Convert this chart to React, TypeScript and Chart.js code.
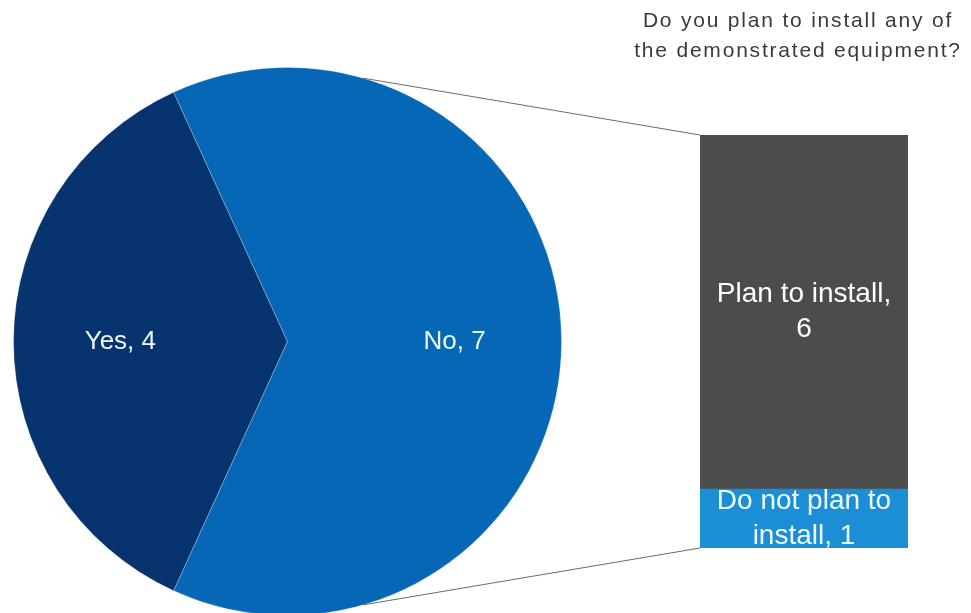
import { useEffect, useRef } from 'react';
import { Chart, registerables } from 'chart.js';

Chart.register(...registerables);

// ---- data ----
const pieLabels = ['Yes', 'No'];
const pieValues = [4, 7];
const pieColors = ['#07336f', '#0567b5'];

// stacked bar (bottom segment first)
const barLabels = ['Do not plan to install', 'Plan to install'];
const barValues = [1, 6];
const barColors = ['#1b8ed6', '#4c4c4c'];

const titleLines = ['Do you plan to install any of', 'the demonstrated equipment?'];

const FONT = '"Liberation Sans", Arial, Helvetica, sans-serif';

function wrapText(ctx: CanvasRenderingContext2D, text: string, maxWidth: number): string[] {
  const words = text.split(' ');
  const lines: string[] = [];
  let cur = '';
  for (const w of words) {
    const test = cur ? cur + ' ' + w : w;
    if (ctx.measureText(test).width > maxWidth && cur) {
      lines.push(cur);
      cur = w;
    } else {
      cur = test;
    }
  }
  if (cur) lines.push(cur);
  return lines;
}

export default function App() {
  const pieRef = useRef<HTMLCanvasElement>(null);
  const barRef = useRef<HTMLCanvasElement>(null);

  useEffect(() => {
    const total = pieValues.reduce((a, b) => a + b, 0);
    const firstSpan = (pieValues[0] / total) * 360;

    const pieLabelPlugin = {
      id: 'pieLabels',
      afterDatasetsDraw(chart: any) {
        const ctx = chart.ctx as CanvasRenderingContext2D;
        const meta = chart.getDatasetMeta(0);
        ctx.save();
        ctx.font = `26px ${FONT}`;
        ctx.fillStyle = '#eef9ff';
        ctx.textAlign = 'center';
        ctx.textBaseline = 'middle';
        meta.data.forEach((arc: any, i: number) => {
          const mid = (arc.startAngle + arc.endAngle) / 2;
          const d = arc.outerRadius * 0.61;
          const x = arc.x + Math.cos(mid) * d;
          const y = arc.y + Math.sin(mid) * d;
          ctx.fillText(`${pieLabels[i]}, ${pieValues[i]}`, x, y);
        });
        ctx.restore();
      },
    };

    const pie = new Chart(pieRef.current!, {
      type: 'pie',
      data: {
        labels: pieLabels,
        datasets: [
          {
            data: pieValues,
            backgroundColor: pieColors,
            borderColor: 'rgba(255,255,255,0.25)',
            borderWidth: 1,
          },
        ],
      },
      options: {
        animation: false,
        responsive: false,
        maintainAspectRatio: false,
        rotation: 270 - firstSpan / 2,
        layout: { padding: 0 },
        plugins: { legend: { display: false }, tooltip: { enabled: false } },
      },
      plugins: [pieLabelPlugin],
    });

    const CONNECTOR_ANGLE = (16 * Math.PI) / 180;

    const connectorPlugin = {
      id: 'connectors',
      afterDraw(chart: any) {
        const ctx = chart.ctx as CanvasRenderingContext2D;
        const top = chart.getDatasetMeta(barValues.length - 1).data[0] as any;
        const bottom = chart.getDatasetMeta(0).data[0] as any;
        if (!top || !bottom) return;
        const left = top.x - top.width / 2;
        const barTop = Math.min(top.y, top.base);
        const barBottom = Math.max(bottom.y, bottom.base);
        const arc = pie.getDatasetMeta(0).data[0] as any;
        const pr = pieRef.current!.getBoundingClientRect();
        const br = barRef.current!.getBoundingClientRect();
        const cx = arc.x + (pr.left - br.left);
        const cy = arc.y + (pr.top - br.top);
        const r = arc.outerRadius;
        const sx = cx + r * Math.sin(CONNECTOR_ANGLE);
        const dy = r * Math.cos(CONNECTOR_ANGLE);
        ctx.save();
        ctx.strokeStyle = '#6a6a6a';
        ctx.lineWidth = 1;
        ctx.beginPath();
        ctx.moveTo(sx, cy - dy);
        ctx.lineTo(left, barTop);
        ctx.moveTo(sx, cy + dy);
        ctx.lineTo(left, barBottom);
        ctx.stroke();
        ctx.restore();
      },
    };

    const barLabelPlugin = {
      id: 'barLabels',
      afterDatasetsDraw(chart: any) {
        const ctx = chart.ctx as CanvasRenderingContext2D;
        ctx.save();
        ctx.font = `28px ${FONT}`;
        ctx.fillStyle = '#ffffff';
        ctx.textAlign = 'center';
        ctx.textBaseline = 'middle';
        const lineH = 35;
        barValues.forEach((v, i) => {
          const el = chart.getDatasetMeta(i).data[0] as any;
          if (!el) return;
          const lines = wrapText(ctx, `${barLabels[i]}, ${v}`, el.width - 20);
          const cy = (el.y + el.base) / 2;
          const startY = cy - ((lines.length - 1) * lineH) / 2;
          ctx.fillStyle = i === 0 ? '#eefaff' : '#ffffff';
          lines.forEach((ln, k) => ctx.fillText(ln, el.x, startY + k * lineH));
        });
        ctx.restore();
      },
    };

    const bar = new Chart(barRef.current!, {
      type: 'bar',
      data: {
        labels: [''],
        datasets: barValues.map((v, i) => ({
          label: barLabels[i],
          data: [v],
          backgroundColor: barColors[i],
          borderWidth: 0,
          barPercentage: 1,
          categoryPercentage: 1,
        })),
      },
      options: {
        animation: false,
        responsive: false,
        maintainAspectRatio: false,
        layout: { padding: { left: 700, right: 63, top: 135, bottom: 65 } },
        scales: {
          x: { stacked: true, display: false, grid: { display: false } },
          y: {
            stacked: true,
            display: false,
            min: 0,
            max: barValues.reduce((a, b) => a + b, 0),
          },
        },
        plugins: { legend: { display: false }, tooltip: { enabled: false } },
      },
      plugins: [barLabelPlugin, connectorPlugin],
    });

    return () => {
      bar.destroy();
      pie.destroy();
    };
  }, []);

  return (
    <div
      style={{
        position: 'fixed',
        left: 0,
        top: 0,
        width: 971,
        height: 613,
        overflow: 'hidden',
        background: '#ffffff',
      }}
    >
      <div style={{ position: 'absolute', left: 13, top: 67, width: 549, height: 549 }}>
        <canvas ref={pieRef} width={549} height={549} style={{ display: 'block' }} />
      </div>
      <canvas
        ref={barRef}
        width={971}
        height={613}
        style={{ position: 'absolute', left: 0, top: 0, display: 'block', pointerEvents: 'none' }}
      />
      <div
        style={{
          position: 'absolute',
          left: 612,
          top: 5,
          width: 372,
          textAlign: 'center',
          fontFamily: FONT,
          fontSize: 21,
          lineHeight: '30px',
          letterSpacing: '1.8px',
          color: '#3a3a3a',
        }}
      >
        {titleLines.map((t, i) => (
          <div key={i}>{t}</div>
        ))}
      </div>
    </div>
  );
}
